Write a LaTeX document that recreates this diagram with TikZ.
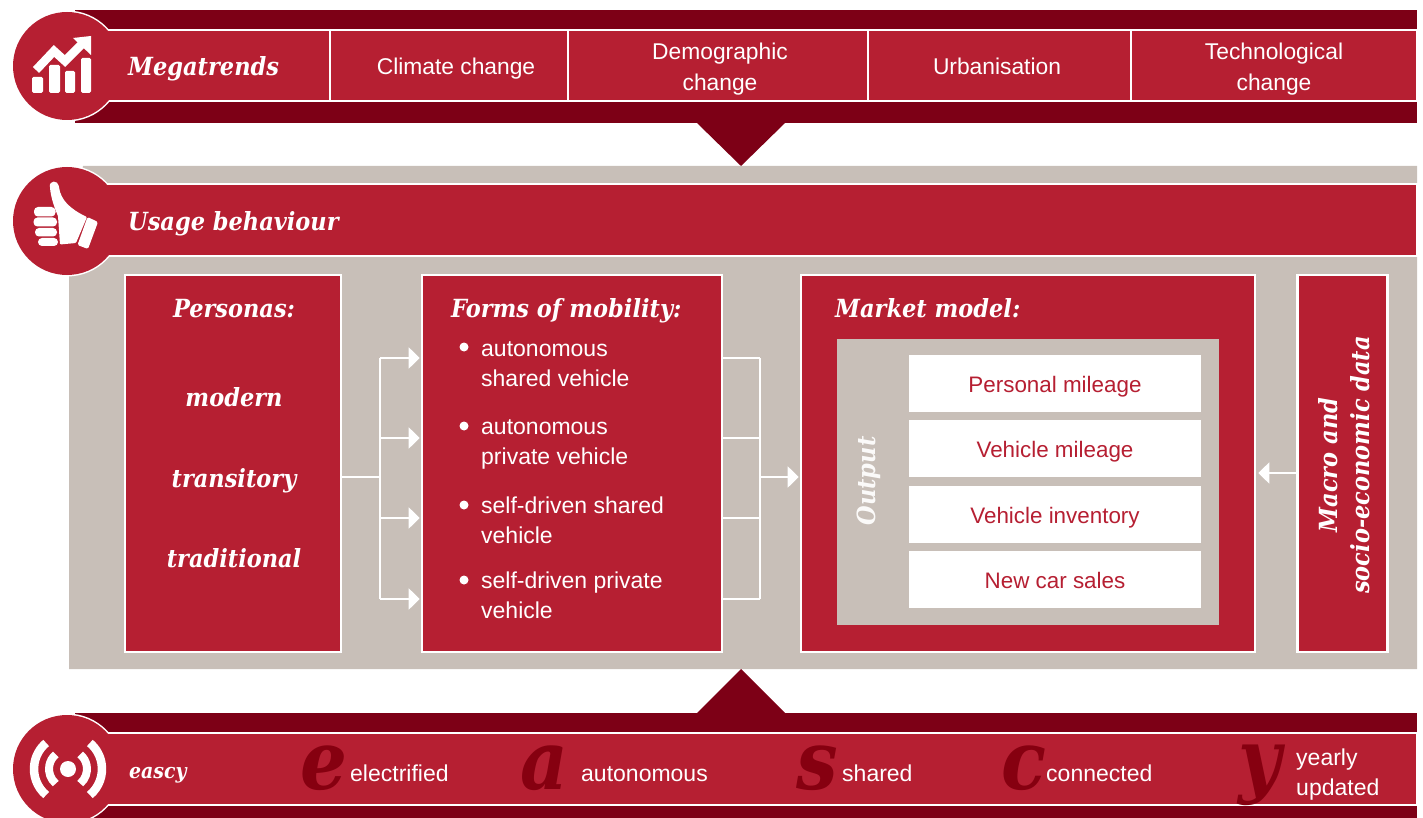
\documentclass[tikz,border=0pt]{standalone}
\usepackage{fontspec}
\setmainfont{Liberation Sans}
\newfontfamily\headfont{DejaVu Serif Condensed}
\usetikzlibrary{arrows.meta,calc}
\definecolor{pwcred}{HTML}{B61F32}
\definecolor{pwcdark}{HTML}{7D0016}
\definecolor{pwcletter}{HTML}{860010}
\definecolor{pwcgrey}{HTML}{C8BFB8}
\tikzset{
  band/.style={fill=pwcdark},
  strip/.style={fill=pwcred,draw=white,line width=1.6pt},
  badgeout/.style={circle,fill=white,minimum size=111pt,inner sep=0},
  badge/.style={circle,fill=pwcred,minimum size=108pt,inner sep=0},
  cell/.style={fill=pwcred,draw=white,line width=1.6pt,inner sep=0,minimum height=71pt},
  celltext/.style={inner sep=0,text=white,align=center,font=\fontsize{22.8}{31}\selectfont},
  boxed/.style={fill=pwcred,draw=white,line width=2.6pt,inner sep=0,minimum height=377pt},
  head/.style={inner sep=0,text=white,font=\headfont\bfseries\itshape\fontsize{25}{32}\selectfont},
  body/.style={inner sep=0,text=white,align=left,font=\fontsize{23}{30}\selectfont},
  outbox/.style={fill=white,inner sep=0,text=pwcred,font=\fontsize{22.4}{26}\selectfont,minimum width=292pt,minimum height=57pt,text height=23.5pt,text depth=5.6pt},
  big/.style={inner sep=0,text=pwcletter,font=\headfont\bfseries\itshape\fontsize{82}{82}\selectfont},
  conn/.style={draw=white,line width=2.1pt},
  arr/.style={conn,-{Triangle[length=11pt,width=21pt]}},
  blt/.style={circle,fill=white,minimum size=9pt,inner sep=0},
}
\begin{document}
\begin{tikzpicture}[x=1pt,y=-1pt]
\useasboundingbox (0,0) rectangle (1423,818);
% bands
\fill[band] (75,10) rectangle (1417,123);
\fill[band] (697,123) -- (785,123) -- (741,166) -- cycle;
\fill[pwcgrey] (83,166) -- (1417,166) -- (1417,669) -- (69,669) -- (69,240) -- cycle;
\fill[band] (75,713) rectangle (1417,818);
\fill[band] (697,713) -- (785,713) -- (741,669) -- cycle;
% strips
\draw[strip] (100,30) rectangle (1417,101);
\draw[strip] (100,184) rectangle (1417,256);
\draw[strip] (100,733) rectangle (1417,805);
% badges
\node[badgeout] at (67,66) {};
\node[badgeout] at (67,221) {};
\node[badgeout] at (67,769) {};
\fill[pwcred] (90,31) rectangle (200,100);
\fill[pwcred] (90,185) rectangle (200,255);
\fill[pwcred] (90,734) rectangle (200,804);
\node[badge] (b1) at (67,66) {};
\node[badge] (b2) at (67,221) {};
\node[badge] (b3) at (67,769) {};
% chart icon
\foreach \xa/\xb/\yy in {32/43/77,49/60/65,65/75/71,81/91/58}
  \fill[white,rounded corners=1.5pt] (\xa,\yy) rectangle (\xb,93);
\draw[white,line width=8.5pt] (36,70) -- (54,51) -- (65,61) -- (84,42);
\fill[white] (73,38) -- (91,36) -- (91,55) -- cycle;
% thumb icon
\fill[white,rounded corners=1pt] (50,188) .. controls (49,180) and (58,180) .. (59,187)
  .. controls (61,200) and (70,209) .. (87,217) -- (76,243) -- (60,244.5) -- (58,216) .. controls (54,207) and (51,197) .. (50,188) -- cycle;
\foreach \ya/\yb/\xa/\xb in {207/216.5/34/55.5,217.5/226.5/33.5/57,228/236.5/35/57,238/246/38/58}
  \fill[white,rounded corners=4pt] (\xa,\ya) rectangle (\xb,\yb);
\fill[white,rounded corners=1.5pt] (87.5,217) -- (98,222) -- (88,249) -- (77.5,245) -- cycle;
% radio icon
\fill[white] (68,769) circle (8);
\draw[white,line width=8pt] ($(68,769)+(130:19)$) arc (130:230:19);
\draw[white,line width=8pt] ($(68,769)+(50:19)$) arc (50:-50:19);
\draw[white,line width=8.5pt] ($(68,769)+(130:34)$) arc (130:230:34);
\draw[white,line width=8.5pt] ($(68,769)+(50:34)$) arc (50:-50:34);
% top row
\node[head,anchor=base west] (mega) at (128,75.5) {Megatrends};
\node[cell,minimum width=238pt] (c1) at (449,65.5) {};
\node[cell,minimum width=300pt] (c2) at (718,65.5) {};
\node[cell,minimum width=263pt] (c3) at (999.5,65.5) {};
\node[cell,minimum width=286pt] (c4) at (1274,65.5) {};
\node[celltext,anchor=base] (t1) at (456,74.5) {Climate change};
\node[celltext] (t2) at (720,69) {Demographic\\change};
\node[celltext,anchor=base] (t3) at (997,74.5) {Urbanisation};
\node[celltext] (t4) at (1274,69) {Technological\\change};
\fill[white] (1417.8,0) rectangle (1423,818);
% usage
\node[head,anchor=base west] (usage) at (128,230.5) {Usage behaviour};
% boxes
\node[boxed,minimum width=216pt] (pers) at (233,463.5) {};
\node[boxed,minimum width=300pt] (forms) at (572,463.5) {};
\node[boxed,minimum width=454pt] (market) at (1028,463.5) {};
\node[boxed,minimum width=90pt] (macro) at (1342.5,463.5) {};
\node[fill=pwcgrey,inner sep=0,minimum width=382pt,minimum height=286pt] (outp) at (1028,482) {};
% personas
\node[head,anchor=base] (p0) at (234,317) {Personas:};
\node[head,anchor=base] (p1) at (234,406) {modern};
\node[head,anchor=base] (p2) at (234,487) {transitory};
\node[head,anchor=base] (p3) at (234,567) {traditional};
% forms
\node[head,anchor=base west] (f0) at (451,317) {Forms of mobility:};
\foreach \n/\yy in {a/347,b/426,c/505,d/580} \node[blt] (bl\n) at (464,\yy) {};
\node[body,anchor=west] (f1) at (481,364) {autonomous\\shared vehicle};
\node[body,anchor=west] (f2) at (481,444) {autonomous\\private vehicle};
\node[body,anchor=west] (f3) at (481,520) {self-driven shared\\vehicle};
\node[body,anchor=west] (f4) at (481,595) {self-driven private\\vehicle};
% market
\node[head,anchor=base west] (m0) at (835,317) {Market model:};
\node[head,rotate=90,text=white!92!pwcgrey] (ot) at (869,481) {Output};
\node[outbox] (o1) at (1055,383.5) {Personal mileage};
\node[outbox] (o2) at (1055,448.5) {Vehicle mileage};
\node[outbox] (o3) at (1055,514.5) {Vehicle inventory};
\node[outbox] (o4) at (1055,579.5) {New car sales};
\node[head,rotate=90,align=center] (ma) at (1344,465) {Macro and\\socio-economic data};
% connectors
\coordinate (j1) at (380,477);
\coordinate (j2) at (760,477);
\coordinate (y1) at (380,358);
\coordinate (y2) at (380,438);
\coordinate (y3) at (380,518);
\coordinate (y4) at (380,599);
\draw[conn] (pers.east |- j1) -- (j1);
\draw[conn] (y1) -- (y4);
\draw[conn] (j2 |- y1) -- (j2 |- y4);
\foreach \c in {y1,y2,y3,y4} {
  \draw[arr] (\c) -- ([xshift=-1pt]forms.west |- \c);
  \draw[conn] (forms.east |- \c) -- (j2 |- \c);
}
\draw[arr] (j2) -- ([xshift=-1pt]market.west |- j2);
\coordinate (j3) at (1297,473);
\draw[arr] (macro.west |- j3) -- ([xshift=2pt]market.east |- j3);
% eascy row
\node[head,anchor=base west,font=\headfont\bfseries\itshape\fontsize{21}{30}\selectfont] (ea) at (129,778) {eascy};
\node[big,anchor=base west] (le) at (300,789) {e};
\node[big,anchor=base west] (la) at (520,789) {a};
\node[big,anchor=base west] (ls) at (796,789) {s};
\node[big,anchor=base west] (lc) at (1001,789) {c};
\node[big,anchor=base west] (ly) at (1238,787) {y};
\node[body,anchor=base west] (te) at (350,781) {electrified};
\node[body,anchor=base west] (ta) at (581,781) {autonomous};
\node[body,anchor=base west] (ts) at (842,781) {shared};
\node[body,anchor=base west] (tc) at (1046,781) {connected};
\node[body,anchor=west] (ty) at (1296,775) {yearly\\updated};
\end{tikzpicture}
\end{document}
